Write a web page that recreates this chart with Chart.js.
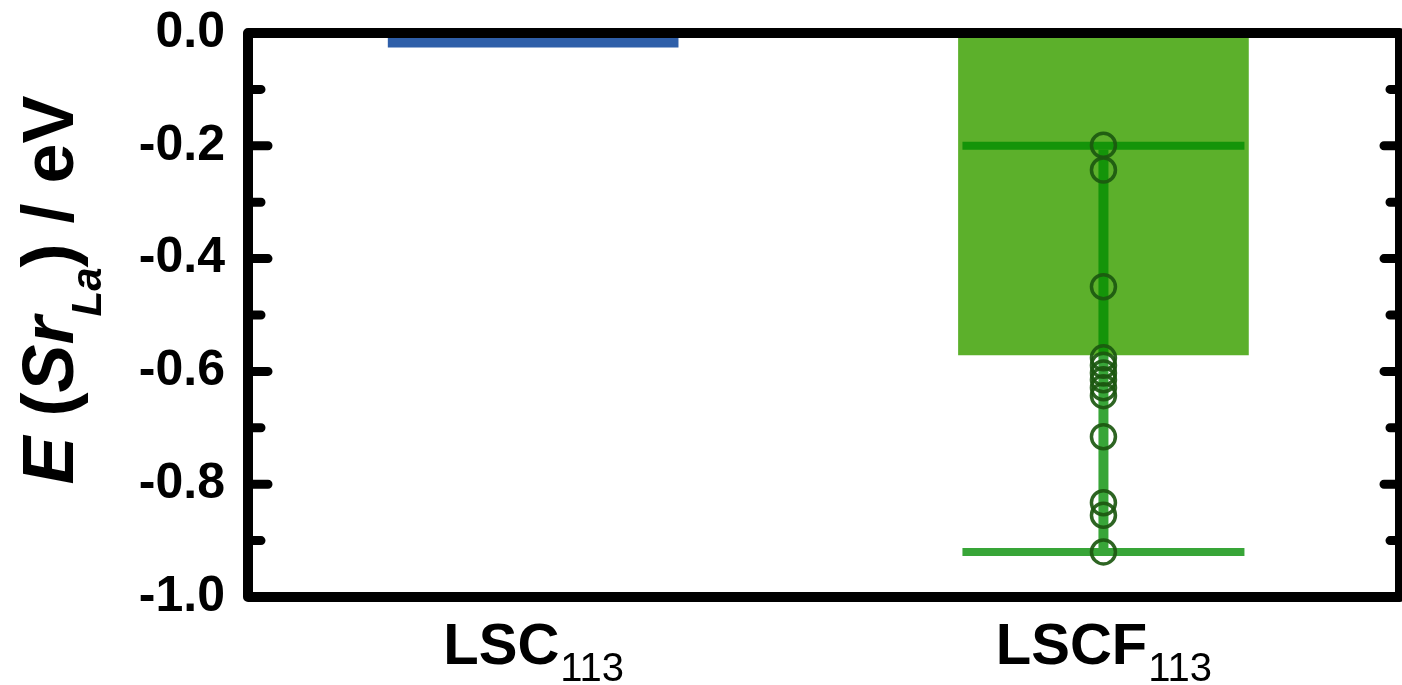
<!DOCTYPE html>
<html>
<head>
<meta charset="utf-8">
<script src="https://cdn.jsdelivr.net/npm/chart.js@4.4.0/dist/chart.umd.min.js"></script>
<style>
    html, body { margin: 0; padding: 0; background: #ffffff; }
    #chart { display: block; }
</style>
</head>
<body>
<canvas id="chart" width="1402" height="685"></canvas>
<script>
// Sr segregation energy per material
const categories = ['LSC', 'LSCF'];
const categorySubs = ['113', '113'];
const categoryPos = [1, 2];
const meanEnergy = [-0.025, -0.571];
const barColors = ['#2f5fa9', '#5cb02b'];

// individual LSCF configurations
const lscfPoints = [-0.199, -0.243, -0.45, -0.576, -0.589, -0.603, -0.615, -0.629, -0.643, -0.716, -0.833, -0.855, -0.92];
const lscfWhisker = [-0.2, -0.92];

const FONT = '"Liberation Sans", Arial, sans-serif';

// whiskers, frame, ticks and the labels with subscripts
const decorations = {
    id: 'decorations',
    afterDatasetDraw(chart, args) {
        if (args.index !== 0) return;
        const bar = args.meta.data[1];
        const y = chart.scales.y;
        const ctx = chart.ctx;
        const top = y.getPixelForValue(lscfWhisker[0]);
        const bottom = y.getPixelForValue(lscfWhisker[1]);
        const half = bar.width / 2 - 4;

        ctx.save();
        ctx.strokeStyle = 'rgba(0,140,0,0.78)';
        ctx.lineWidth = 8;
        ctx.beginPath();
        ctx.moveTo(bar.x - half, top);
        ctx.lineTo(bar.x + half, top);
        ctx.moveTo(bar.x - half, bottom);
        ctx.lineTo(bar.x + half, bottom);
        ctx.stroke();

        ctx.lineWidth = 10;
        ctx.beginPath();
        ctx.moveTo(bar.x, top + 4);
        ctx.lineTo(bar.x, bottom - 4);
        ctx.stroke();
        ctx.restore();
    },
    afterDraw(chart) {
        const ctx = chart.ctx;
        const area = chart.chartArea;
        const y = chart.scales.y;
        const x = chart.scales.x;

        ctx.save();
        // box
        ctx.strokeStyle = '#000';
        ctx.lineWidth = 10;
        ctx.lineJoin = 'round';
        ctx.strokeRect(area.left, area.top, area.right - area.left, area.bottom - area.top);

        // inward ticks, major + minor
        ctx.lineCap = 'round';
        ctx.lineWidth = 9;
        const ticks = y.ticks.map(t => t.value);
        ctx.beginPath();
        ticks.forEach((v, i) => {
            const py = y.getPixelForValue(v);
            if (i > 0 && i < ticks.length - 1) {
                ctx.moveTo(area.left, py);
                ctx.lineTo(area.left + 20, py);
                ctx.moveTo(area.right, py);
                ctx.lineTo(area.right - 16, py);
            }
            if (i < ticks.length - 1) {
                const my = (py + y.getPixelForValue(ticks[i + 1])) / 2;
                ctx.moveTo(area.left, my);
                ctx.lineTo(area.left + 13, my);
                ctx.moveTo(area.right, my);
                ctx.lineTo(area.right - 10, my);
            }
        });
        ctx.stroke();

        // category labels with subscripts
        ctx.fillStyle = '#000';
        ctx.textBaseline = 'alphabetic';
        ctx.textAlign = 'left';
        categories.forEach((name, i) => {
            const cx = x.getPixelForValue(categoryPos[i]);
            ctx.font = 'bold 58px ' + FONT;
            const w1 = ctx.measureText(name).width;
            ctx.font = '40px ' + FONT;
            const w2 = ctx.measureText(categorySubs[i]).width;
            const start = cx - (w1 + w2) / 2;
            ctx.font = 'bold 58px ' + FONT;
            ctx.fillText(name, start, 664);
            ctx.font = '40px ' + FONT;
            ctx.fillText(categorySubs[i], start + w1 + 1, 681);
        });

        // y title: E (Sr_La) / eV
        const parts = [
            { t: 'E', f: 'italic bold 72px ', dy: 0 },
            { t: ' (', f: 'bold 72px ', dy: 0 },
            { t: 'Sr', f: 'italic bold 72px ', dy: 0 },
            { t: 'La', f: 'italic bold 42px ', dy: 28 },
            { t: ') / eV', f: 'bold 72px ', dy: 0 }
        ];
        let total = 0;
        parts.forEach(p => {
            ctx.font = p.f + FONT;
            p.w = ctx.measureText(p.t).width;
            total += p.w;
        });
        ctx.translate(73, 290);
        ctx.rotate(-Math.PI / 2);
        let px = -total / 2;
        parts.forEach(p => {
            ctx.font = p.f + FONT;
            ctx.fillText(p.t, px, p.dy);
            px += p.w;
        });
        ctx.restore();
    }
};

new Chart(document.getElementById('chart'), {
    type: 'bar',
    data: {
        datasets: [{
            data: categoryPos.map((p, i) => ({ x: p, y: meanEnergy[i] })),
            backgroundColor: barColors,
            borderWidth: 0,
            barThickness: 290,
            order: 1
        }, {
            type: 'line',
            data: lscfPoints.map(v => ({ x: categoryPos[1], y: v })),
            showLine: false,
            pointRadius: 12,
            pointBorderWidth: 3.5,
            pointBackgroundColor: 'rgba(0,0,0,0)',
            pointBorderColor: 'rgba(28,88,16,0.92)',
            order: 0
        }]
    },
    options: {
        responsive: false,
        animation: false,
        devicePixelRatio: 1,
        layout: { autoPadding: false, padding: { top: 33, right: 2, bottom: 0, left: 0 } },
        plugins: {
            legend: { display: false },
            tooltip: { enabled: false }
        },
        scales: {
            x: {
                type: 'linear',
                min: 0.5,
                max: 2.52,
                offset: false,
                grid: { display: false, drawTicks: false },
                border: { display: false },
                ticks: { display: false },
                afterFit(scale) {
                    scale.height = 88;
                    scale.paddingLeft = 0;
                    scale.paddingRight = 0;
                }
            },
            y: {
                min: -1,
                max: 0,
                grid: { display: false, drawTicks: false },
                border: { display: false },
                ticks: {
                    stepSize: 0.2,
                    padding: 23,
                    color: '#000',
                    font: { family: FONT, size: 50, weight: 'bold' },
                    callback: v => (Math.abs(v) < 1e-9 ? 0 : v).toFixed(1)
                },
                afterFit(scale) {
                    scale.width = 248;
                    scale.paddingTop = 0;
                    scale.paddingBottom = 0;
                }
            }
        }
    },
    plugins: [decorations]
});
</script>
</body>
</html>
